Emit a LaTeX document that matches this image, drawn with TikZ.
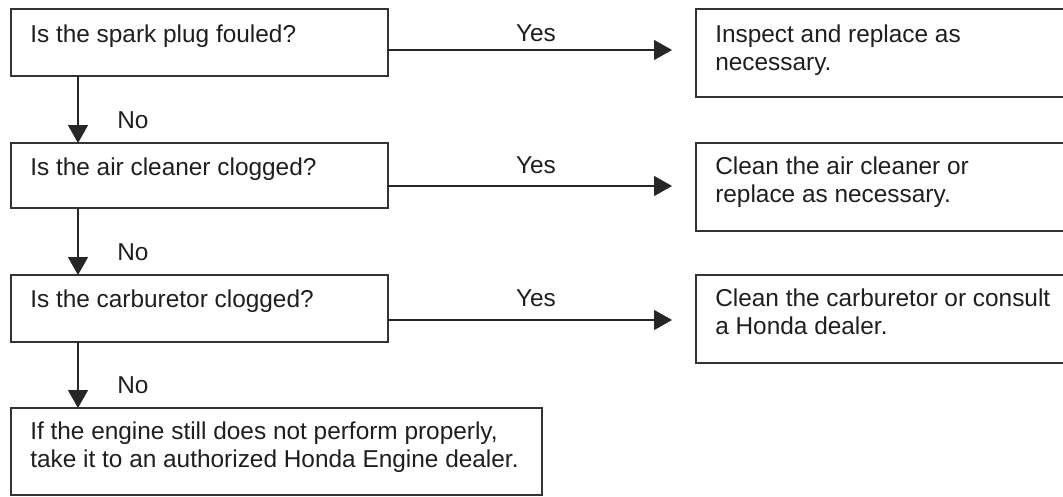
\documentclass[tikz,border=0pt]{standalone}
\usepackage{fontspec}
\setmainfont{Liberation Sans}
\usetikzlibrary{arrows.meta}
\newcommand{\twoln}[2]{\vtop{\hbox{#1}\hbox{#2}}}
\begin{document}
\begin{tikzpicture}[x=0.75pt,y=-0.75pt,
  box/.style={draw=black!80, line width=1.3pt, fill=none, inner sep=0pt, outer sep=0pt, anchor=north west},
  txt/.style={anchor=base west, inner sep=0pt, text=black!88, font=\fontsize{18.3pt}{21.4pt}\selectfont},
  lbl/.style={inner sep=0pt, text=black!88, font=\fontsize{18.3pt}{21.4pt}\selectfont},
  arr/.style={draw=black!85, line width=1.1pt, -{Triangle[length=13.5pt,width=15pt]}}]
\useasboundingbox (0,0) rectangle (1063,496);
\clip (0,0) rectangle (1063,496);
\fill[white] (0,0) rectangle (1063,496);
% left boxes
\node[box, minimum width=377*0.75pt, minimum height=67*0.75pt] (L1) at (11,9) {};
\node[box, minimum width=377*0.75pt, minimum height=65*0.75pt] (L2) at (11,143) {};
\node[box, minimum width=377*0.75pt, minimum height=67*0.75pt] (L3) at (11,275) {};
\node[box, minimum width=531*0.75pt, minimum height=87*0.75pt] (L4) at (11,408) {};
% right boxes
\node[box, minimum width=374*0.75pt, minimum height=88*0.75pt] (R1) at (696,9) {};
\node[box, minimum width=374*0.75pt, minimum height=88*0.75pt] (R2) at (696,143) {};
\node[box, minimum width=374*0.75pt, minimum height=88*0.75pt] (R3) at (696,275) {};
% texts
\node[txt] (t1) at (30,42) {Is the spark plug fouled?};
\node[txt] (t2) at (30,175) {Is the air cleaner clogged?};
\node[txt] (t3) at (30,307) {Is the carburetor clogged?};
\node[txt] (t4) at (30,439) {\twoln{If the engine still does not perform properly,}{take it to an authorized Honda Engine dealer.}};
\node[txt] (r1) at (715,42) {\twoln{Inspect and replace as}{necessary.}};
\node[txt] (r2) at (715,174) {\twoln{Clean the air cleaner or}{replace as necessary.}};
\node[txt] (r3) at (715,306) {\twoln{Clean the carburetor or consult}{a Honda dealer.}};
% helper coordinates
\coordinate (vx) at (78,0);
\coordinate (y1) at (0,50);
\coordinate (y2) at (0,186);
\coordinate (y3) at (0,320);
% vertical arrows
\draw[arr] (vx |- L1.south) -- (vx |- L2.north);
\draw[arr] (vx |- L2.south) -- (vx |- L3.north);
\draw[arr] (vx |- L3.south) -- (vx |- L4.north);
% horizontal arrows
\draw[arr, shorten >=18pt] (L1.east |- y1) -- (R1.west |- y1);
\draw[arr, shorten >=18pt] (L2.east |- y2) -- (R2.west |- y2);
\draw[arr, shorten >=18pt] (L3.east |- y3) -- (R3.west |- y3);
% labels
\node[lbl, anchor=base west] (n1) at (117,128) {No};
\node[lbl, anchor=base west] (n2) at (117,260) {No};
\node[lbl, anchor=base west] (n3) at (117,393) {No};
\node[lbl, anchor=base] (yes1) at (536,41) {Yes};
\node[lbl, anchor=base] (yes2) at (536,173) {Yes};
\node[lbl, anchor=base] (yes3) at (536,306) {Yes};
\end{tikzpicture}
\end{document}
